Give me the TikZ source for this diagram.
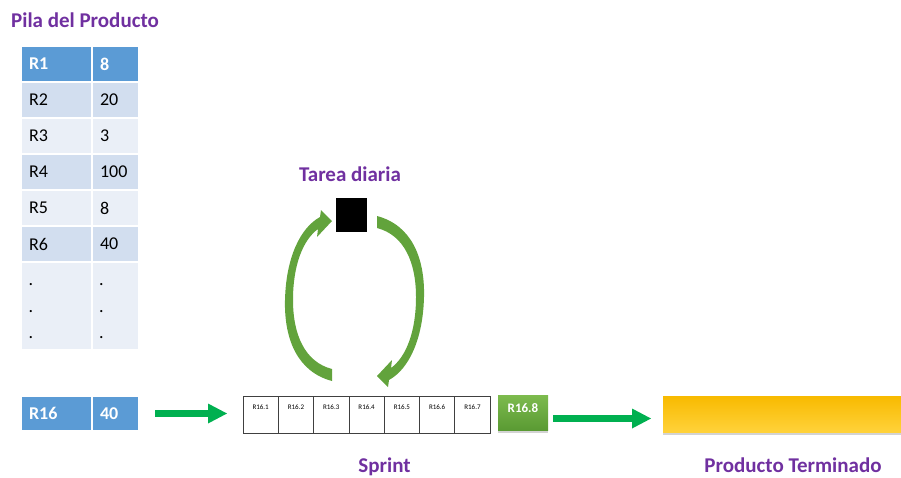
\documentclass[tikz,border=0pt]{standalone}
\usepackage{fontspec}
\setmainfont{Carlito}
\usetikzlibrary{arrows.meta,shadows}
\definecolor{hdrblue}{HTML}{5B9BD5}
\definecolor{bandA}{HTML}{D2DEEF}
\definecolor{bandB}{HTML}{EAEFF7}
\definecolor{ttlpurple}{HTML}{7030A0}
\definecolor{arrgreen}{HTML}{00B050}
\definecolor{loopgreen}{HTML}{62A33C}
\definecolor{gtop}{HTML}{7DBB4E}
\definecolor{gbot}{HTML}{5A9A33}
\definecolor{ytop}{HTML}{F8BA00}
\definecolor{ybot}{HTML}{FFD23A}
\begin{document}
\begin{tikzpicture}[x=1pt,y=-1pt,
  cellbase/.style={draw=white, line width=1.5pt, outer sep=0pt, inner ysep=0pt,
    minimum height=36pt, anchor=north west, align=left,
    font=\fontsize{18}{20}\selectfont},
  lcell/.style={cellbase, inner xsep=8pt, text width=55pt},
  rcell/.style={cellbase, inner xsep=8pt, text width=31pt},
  hdr/.style={fill=hdrblue, text=white, font=\fontsize{18}{20}\selectfont\bfseries},
  bA/.style={fill=bandA},
  bB/.style={fill=bandB},
  dotmark/.style={inner sep=0pt, font=\fontsize{18}{20}\selectfont},
  ttl/.style={inner sep=0pt, text=ttlpurple, font=\fontsize{21}{24}\selectfont\bfseries},
  scell/.style={draw=black!75, line width=0.8pt, outer sep=0pt, inner sep=0pt,
    minimum width=35.3pt, text height=13.3pt, text depth=23.7pt, anchor=north west,
    font=\fontsize{7}{8}\selectfont},
  gbox/.style={inner sep=0pt, outer sep=0pt, minimum width=50pt, text height=17.5pt,
    text depth=17.5pt, top color=gtop, bottom color=gbot, text=white,
    font=\fontsize{13}{14}\selectfont\bfseries, anchor=north west,
    drop shadow={shadow xshift=0pt, shadow yshift=-2.5pt, opacity=0.35}},
  ybox/.style={inner sep=0pt, outer sep=0pt, minimum width=238pt, minimum height=36pt,
    top color=ytop, bottom color=ybot, anchor=north west,
    drop shadow={shadow xshift=0pt, shadow yshift=-2.5pt, opacity=0.35}},
  bigarrow/.style={draw=arrgreen, line width=7pt,
    -{Triangle[length=19pt, width=20pt, line width=0pt]}},
  looparrow/.pic={
    \fill[loopgreen] (332,381) .. controls (298,372) and (284,340) .. (285,300)
      .. controls (286,258) and (300,228) .. (320,217) -- (321,210) -- (332,221)
      -- (317,237) -- (318,229) .. controls (303,240) and (293,265) .. (293,300)
      .. controls (293,335) and (305,362) .. (332,369) -- cycle;
  }
]
\useasboundingbox (0,0) rectangle (901,477);

% title
\node[ttl, anchor=base west] (t1) at (11,27.5) {Pila del Producto};

% product backlog table
\node[lcell,hdr] (r1k) at (21,46) {R1};
\node[rcell,hdr] (r1v) at (r1k.north east) {8};
\node[lcell,bA] (r2k) at (r1k.south west) {R2};
\node[rcell,bA] (r2v) at (r2k.north east) {20};
\node[lcell,bB] (r3k) at (r2k.south west) {R3};
\node[rcell,bB] (r3v) at (r3k.north east) {3};
\node[lcell,bA] (r4k) at (r3k.south west) {R4};
\node[rcell,bA] (r4v) at (r4k.north east) {100};
\node[lcell,bB] (r5k) at (r4k.south west) {R5};
\node[rcell,bB] (r5v) at (r5k.north east) {8};
\node[lcell,bA] (r6k) at (r5k.south west) {R6};
\node[rcell,bA] (r6v) at (r6k.north east) {40};
\node[lcell,bB,minimum height=88pt] (r7k) at (r6k.south west) {};
\node[rcell,bB,minimum height=88pt] (r7v) at (r7k.north east) {};
\node[dotmark] (d1) at (31,285) {.};
\node[dotmark] (d2) at (31,312) {.};
\node[dotmark] (d3) at (31,338) {.};
\node[dotmark] (d4) at (101.5,285) {.};
\node[dotmark] (d5) at (101.5,312) {.};
\node[dotmark] (d6) at (101.5,338) {.};

% R16 row
\node[lcell,hdr,minimum height=35pt] (r16k) at (21,396) {R16};
\node[rcell,hdr,minimum height=35pt] (r16v) at (r16k.north east) {40};

% sprint
\node[scell] (s1) at (243,396) {R16.1};
\node[scell] (s2) at (s1.north east) {R16.2};
\node[scell] (s3) at (s2.north east) {R16.3};
\node[scell] (s4) at (s3.north east) {R16.4};
\node[scell] (s5) at (s4.north east) {R16.5};
\node[scell] (s6) at (s5.north east) {R16.6};
\node[scell] (s7) at (s6.north east) {R16.7};
\node[ttl, anchor=base] (t3) at (384.5,472) {Sprint};

% finished item
\node[gbox] (g) at (498,395) {R16.8};

% finished product
\node[ybox] (y) at (663,396) {};
\node[ttl, anchor=base] (t4) at (793,472) {Producto Terminado};

% daily task
\node[ttl, anchor=base] (t2) at (350,181) {Tarea diaria};
\node[fill=black, inner sep=0pt, minimum width=31pt, minimum height=34pt, anchor=north west] (sq) at (336,198) {};
\pic at (0,0) {looparrow};
\pic[rotate=180] at (709,597) {looparrow};

% arrows
\draw[bigarrow, shorten <=16pt, shorten >=16pt] (r16v.east) -- (r16v.east -| s1.west);
\coordinate (a2s) at ([yshift=-6pt]g.east);
\draw[bigarrow, shorten <=5pt, shorten >=12pt] (a2s) -- (a2s -| y.west);
\end{tikzpicture}
\end{document}
